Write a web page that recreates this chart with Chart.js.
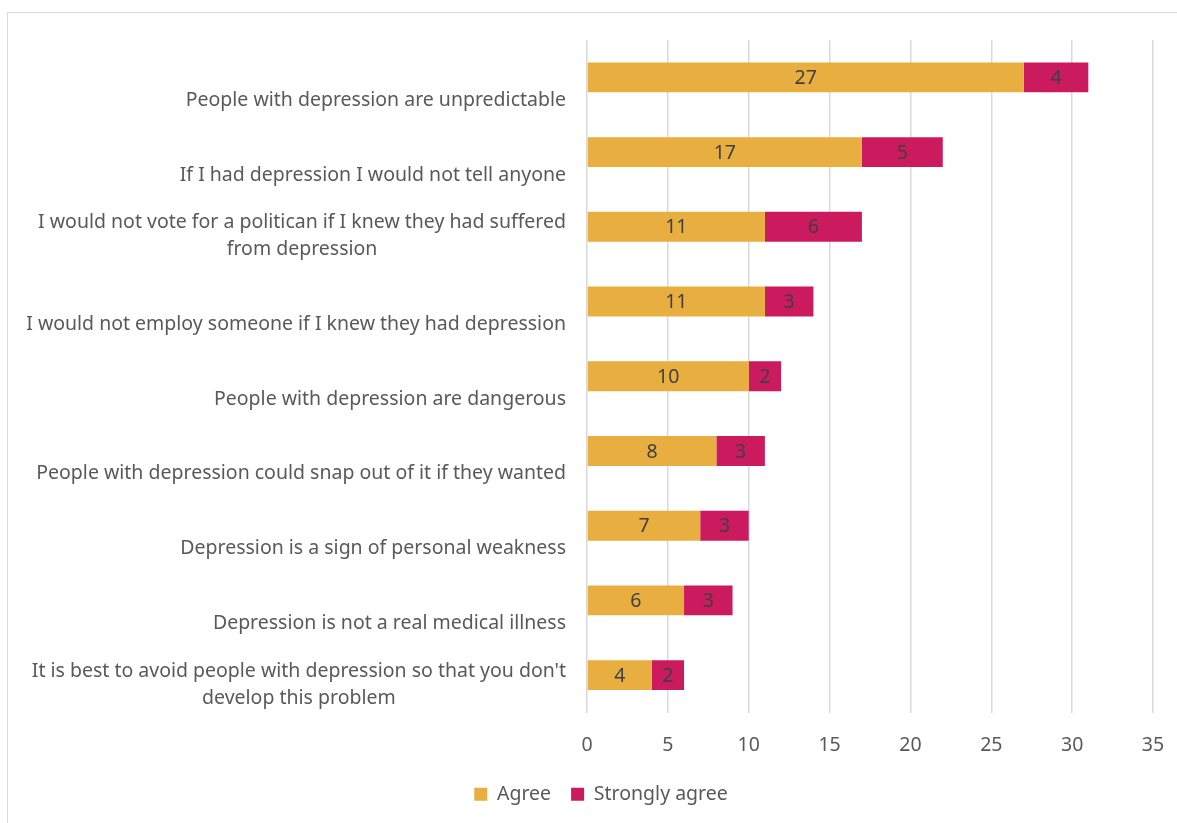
<!DOCTYPE html>
<html>
<head>
<meta charset="utf-8">
<script src="https://cdn.jsdelivr.net/npm/chart.js@4.4.1/dist/chart.umd.min.js"></script>
<style>
  html, body { margin: 0; padding: 0; background: #ffffff; overflow: hidden; }
  #frame { position: absolute; left: 7px; top: 12px; width: 1400px; height: 1000px; border: 1px solid #d9d9d9; box-sizing: border-box; }
  #wrap { position: absolute; left: 0; top: 0; width: 1177px; height: 823px; }
</style>
</head>
<body>
<div id="frame"></div>
<div id="wrap"><canvas id="c"></canvas></div>
<script>
const categories = [
  "People with depression are unpredictable",
  "If I had depression I would not tell anyone",
  ["I would not vote for a politican if I knew they had suffered", "from depression"],
  "I would not employ someone if I knew they had depression",
  "People with depression are dangerous",
  "People with depression could snap out of it if they wanted",
  "Depression is a sign of personal weakness",
  "Depression is not a real medical illness",
  ["It is best to avoid people with depression so that you don't", "develop this problem"]
];
const agree = [27, 17, 11, 11, 10, 8, 7, 6, 4];
const stronglyAgree = [4, 5, 6, 3, 2, 3, 3, 3, 2];
const seriesNames = ["Agree", "Strongly agree"];
const xTicksMin = 0, xTicksMax = 35, xTicksStep = 5;

const FONT = "'Noto Sans', 'Open Sans', sans-serif";
const FSIZE = 19.5;
const PAD_LEFT = 49;

const yLabelPlugin = {
  id: 'yLabels',
  afterDraw(chart) {
    const ctx = chart.ctx;
    const ys = chart.scales.y;
    const rightEdge = chart.chartArea.left - 21;
    ctx.save();
    ctx.font = FSIZE + "px " + FONT;
    ctx.fillStyle = '#595959';
    ctx.textAlign = 'center';
    ctx.textBaseline = 'alphabetic';
    chart.data.labels.forEach((lab, i) => {
      const lines = Array.isArray(lab) ? lab : [lab];
      const yc = ys.getPixelForValue(i);
      const lastBase = yc + 28.5;
      let w = 0;
      lines.forEach(l => { w = Math.max(w, ctx.measureText(l).width); });
      const cx = rightEdge - w / 2;
      lines.forEach((l, j) => {
        ctx.fillText(l, cx, lastBase - (lines.length - 1 - j) * 27);
      });
    });
    ctx.restore();
  }
};

const dataLabelPlugin = {
  id: 'dataLabels',
  afterDatasetsDraw(chart) {
    const ctx = chart.ctx;
    ctx.save();
    ctx.font = FSIZE + "px " + FONT;
    ctx.fillStyle = '#404040';
    ctx.textAlign = 'center';
    ctx.textBaseline = 'middle';
    chart.data.datasets.forEach((ds, di) => {
      const meta = chart.getDatasetMeta(di);
      meta.data.forEach((el, i) => {
        const v = ds.data[i];
        if (!v) return;
        ctx.fillText(String(v), (el.x + el.base) / 2, el.y + 1);
      });
    });
    ctx.restore();
  }
};

new Chart(document.getElementById('c'), {
  type: 'bar',
  data: {
    labels: categories,
    datasets: [
      { label: seriesNames[0], data: agree, backgroundColor: '#E8AF40', borderWidth: 0 },
      { label: seriesNames[1], data: stronglyAgree, backgroundColor: '#CC1A5E', borderWidth: 0 }
    ]
  },
  options: {
    indexAxis: 'y',
    responsive: true,
    maintainAspectRatio: false,
    animation: false,
    datasets: { bar: { barPercentage: 0.4, categoryPercentage: 1.0 } },
    layout: { padding: { left: PAD_LEFT, right: 24, top: 40, bottom: 9 } },
    scales: {
      x: {
        stacked: true,
        min: xTicksMin, max: xTicksMax,
        ticks: { stepSize: xTicksStep, color: '#595959', font: { family: FONT, size: FSIZE }, padding: 0 },
        grid: { color: '#d9d9d9', lineWidth: 1.5, drawTicks: true, tickLength: 21, tickColor: 'rgba(0,0,0,0)' },
        border: { display: false },
        afterFit(s) { s.height = 52; }
      },
      y: {
        stacked: true,
        ticks: { display: false },
        grid: { display: false },
        border: { display: false },
        afterFit(s) { s.width = 587 - PAD_LEFT; }
      }
    },
    plugins: {
      legend: {
        position: 'bottom',
        labels: { boxWidth: 13, boxHeight: 13, padding: 20, color: '#595959', font: { family: FONT, size: FSIZE } }
      },
      tooltip: { enabled: false }
    }
  },
  plugins: [yLabelPlugin, dataLabelPlugin]
});
</script>
</body>
</html>
